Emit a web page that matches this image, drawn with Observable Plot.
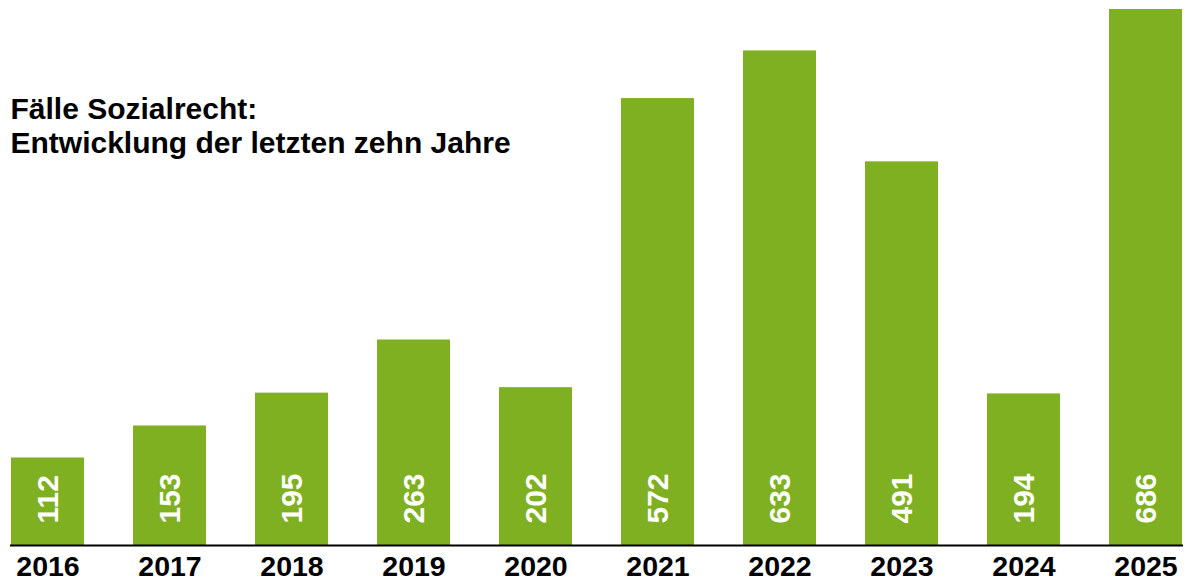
<!DOCTYPE html>
<html>
<head>
<meta charset="utf-8">
<script src="https://cdn.jsdelivr.net/npm/d3@7"></script>
<script src="https://cdn.jsdelivr.net/npm/@observablehq/plot@0.6"></script>
<style>
  html, body { margin: 0; padding: 0; background: #fff; }
  #chart svg { display: block; }
</style>
</head>
<body>
<div id="chart"></div>
<script>
const years = ["2016","2017","2018","2019","2020","2021","2022","2023","2024","2025"];
const cases = [112, 153, 195, 263, 202, 572, 633, 491, 194, 686];
const titleLines = ["Fälle Sozialrecht:", "Entwicklung der letzten zehn Jahre"];

const data = years.map((y, i) => ({year: y, value: cases[i]}));
const font = "'Liberation Sans', Arial, Helvetica, sans-serif";
const green = "#7fb022";

const chart = Plot.plot({
  width: 1189,
  height: 583,
  marginLeft: 10,
  marginRight: 6,
  marginTop: 9,
  marginBottom: 38,
  style: {fontFamily: font, background: "#fff"},
  x: {domain: years, paddingInner: 0.4, paddingOuter: 0, label: null},
  y: {domain: [0, 686], axis: null},
  marks: [
    Plot.barY(data, {x: "year", y: "value", fill: green}),
    Plot.ruleY([0], {stroke: "#000", strokeWidth: 2}),
    Plot.text(data, {
      x: "year", y: 0, text: d => String(d.value),
      rotate: -90, textAnchor: "start", dy: -22,
      fill: "#fff", fontSize: 30, fontWeight: "bold"
    }),
    Plot.axisX({
      tickSize: 0, tickPadding: 10, fontSize: 28.5, fontWeight: "bold",
      fill: "#000", label: null
    }),
    Plot.text([titleLines.join("\n")], {
      frameAnchor: "top-left", textAnchor: "start", lineAnchor: "top",
      dx: 0, dy: 86, lineHeight: 1.12,
      fontSize: 30, fontWeight: "bold", fill: "#000"
    })
  ]
});
document.getElementById("chart").appendChild(chart);
</script>
</body>
</html>
